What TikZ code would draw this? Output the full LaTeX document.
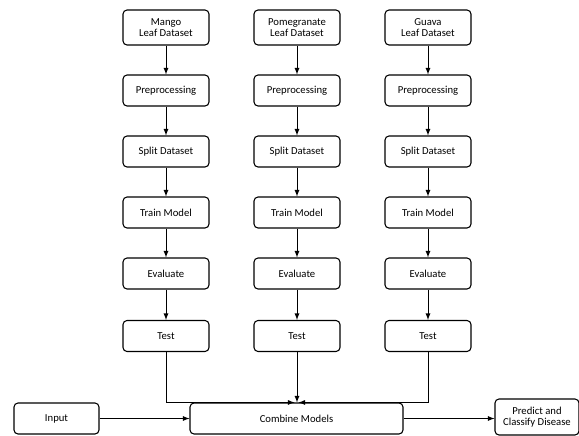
\documentclass[tikz,border=0pt]{standalone}
\usepackage{fontspec}
\setmainfont{Carlito}
\usetikzlibrary{arrows,positioning}
\tikzset{
	stepbox/.style={
			draw, line width=0.8pt, rounded corners=3pt, align=center,
			minimum width=64.5pt, minimum height=23.25pt, inner sep=1pt,
			font=\fontsize{8}{8.5}\selectfont
		},
	flow/.style={-latex, line width=0.7pt}
}

\begin{document}
\begin{tikzpicture}[x=0.75pt, y=-0.75pt]
            \useasboundingbox (0,0) rectangle (579,436);

            % One column of steps for every leaf dataset
            \foreach \col/\x/\crop in {mango/166/Mango, pome/297/Pomegranate, guava/428/Guava} {
                \node[stepbox, minimum height=26.25pt] (\col-data) at (\x,27.5) {\crop\\Leaf Dataset};
                \node[stepbox] (\col-pre) at (\x,90.5) {Preprocessing};
                \node[stepbox] (\col-split) at (\x,151.5) {Split Dataset};
                \node[stepbox] (\col-train) at (\x,212.5) {Train Model};
                \node[stepbox] (\col-eval) at (\x,273.5) {Evaluate};
                \node[stepbox] (\col-test) at (\x,336) {Test};
                \foreach \a/\b in {data/pre, pre/split, split/train, train/eval, eval/test} {
                    \draw[flow] (\col-\a) -- (\col-\b);
                }
            }

            % Bottom row
            \node[stepbox, minimum width=159.75pt] (combine) at (296.5,418.5) {Combine Models};
            \node[stepbox, minimum width=63.75pt] (input) at (56.5,418.5) {Input};
            \node[stepbox, minimum width=63pt, minimum height=27pt] (predict) at (537,417) {Predict and\\Classify Disease};

            % Merge the three models
            \draw[flow] (mango-test) |- ([xshift=-1.5pt]combine.north);
            \draw[flow] (pome-test) -- (pome-test.south |- combine.north);
            \draw[flow] (guava-test) |- ([xshift=1.5pt]combine.north);
            \draw[flow] (input) -- (combine);
            \draw[flow] (combine.east) -- (predict.west |- combine.east);
\end{tikzpicture}
\end{document}
